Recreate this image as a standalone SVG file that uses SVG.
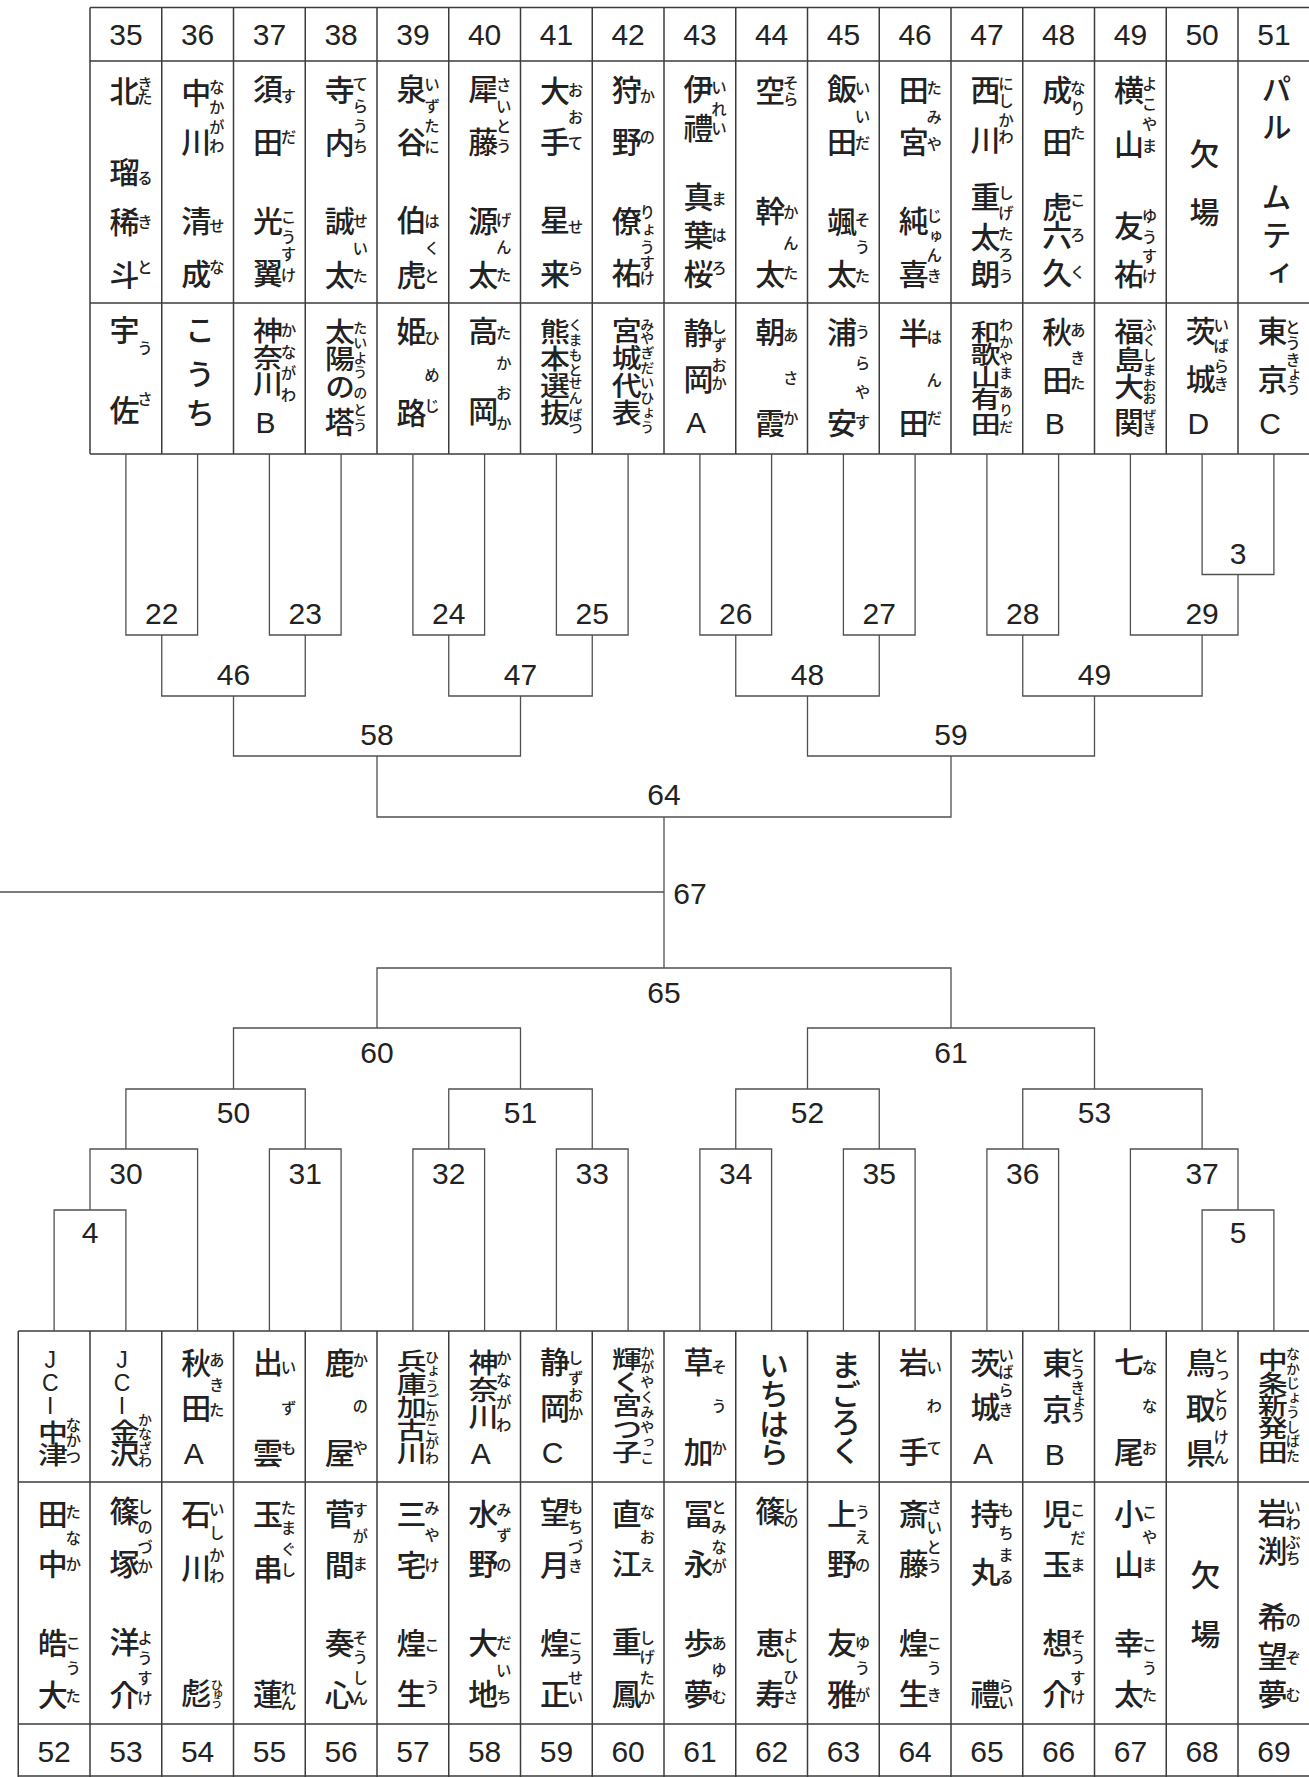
<svg xmlns="http://www.w3.org/2000/svg" width="1309" height="1777" viewBox="0 0 1309 1777">
<style>
.g{stroke:#3c3c3c;stroke-width:1.5;fill:none}
.c{stroke:#505050;stroke-width:1.3;fill:none}
.n{font-family:"Liberation Sans",Arial,sans-serif;font-size:30px;text-anchor:middle;fill:#222}
.m{font-family:"Liberation Sans","Noto Sans CJK JP",sans-serif;font-size:30px;font-weight:500;writing-mode:vertical-rl;text-orientation:upright;text-anchor:middle;fill:#222}
.j{font-size:23px}
.r{font-family:"Noto Sans CJK JP",sans-serif;font-size:15.5px;font-weight:500;writing-mode:vertical-rl;text-orientation:upright;text-anchor:middle;fill:#222}
.rd{font-size:14px}
.rs{font-size:12px}
</style>
<rect width="1309" height="1777" fill="#fff"/>
<g id="top-table" class="g">
<path d="M90 7.5H1309M90 61H1309M90 303H1309M90 454H1309"/>
<path d="M90 7.5V454M161.75 7.5V454M233.5 7.5V454M305.25 7.5V454M377 7.5V454M448.75 7.5V454M520.5 7.5V454M592.25 7.5V454M664 7.5V454M735.75 7.5V454M807.5 7.5V454M879.25 7.5V454M951 7.5V454M1022.75 7.5V454M1094.5 7.5V454M1166.25 7.5V454M1238 7.5V454"/>
</g>
<g id="bottom-table" class="g">
<path d="M18.25 1331H1309M18.25 1482H1309M18.25 1724H1309M18.25 1776H1309"/>
<path d="M18.25 1331V1777M90 1331V1777M161.75 1331V1777M233.5 1331V1777M305.25 1331V1777M377 1331V1777M448.75 1331V1777M520.5 1331V1777M592.25 1331V1777M664 1331V1777M735.75 1331V1777M807.5 1331V1777M879.25 1331V1777M951 1331V1777M1022.75 1331V1777M1094.5 1331V1777M1166.25 1331V1777M1238 1331V1777"/>
</g>
<g id="connectors" class="c">
<path d="M125.9 454V635H197.6V454M269.4 454V635H341.1V454M412.9 454V635H484.6V454M556.4 454V635H628.1V454M699.9 454V635H771.6V454M843.4 454V635H915.1V454M986.9 454V635H1058.6V454M1202.1 454V574.5H1273.9V454M1130.4 454V635H1238V574.5"/>
<path d="M161.75 635V696H305.25V635M448.75 635V696H592.25V635M735.75 635V696H879.25V635M1022.75 635V696H1202.1V635"/>
<path d="M233.5 696V756H520.5V696M807.5 696V756H1094.5V696M377 756V817H951V756M664 817V968M0 892H664"/>
<path d="M54.1 1331V1210H125.9V1331M90 1210V1149H197.6V1331M269.4 1331V1149H341.1V1331M412.9 1331V1149H484.6V1331M556.4 1331V1149H628.1V1331M699.9 1331V1149H771.6V1331M843.4 1331V1149H915.1V1331M986.9 1331V1149H1058.6V1331M1202.1 1331V1210H1273.9V1331M1130.4 1331V1149H1238V1210"/>
<path d="M125.9 1149V1089H305.25V1149M448.75 1149V1089H592.25V1149M735.75 1149V1089H879.25V1149M1022.75 1149V1089H1202.1V1149"/>
<path d="M233.5 1089V1028H520.5V1089M807.5 1089V1028H1094.5V1089M377 1028V968H951V1028"/>
</g>
<g id="matches" class="n">
<text id="m22" x="161.75" y="624">22</text><text id="m23" x="305.25" y="624">23</text><text id="m24" x="448.75" y="624">24</text><text id="m25" x="592.25" y="624">25</text><text id="m26" x="735.75" y="624">26</text><text id="m27" x="879.25" y="624">27</text><text id="m28" x="1022.75" y="624">28</text><text id="m29" x="1202.1" y="624">29</text>
<text id="m3" x="1238" y="564">3</text>
<text id="m46" x="233.5" y="685">46</text><text id="m47" x="520.5" y="685">47</text><text id="m48" x="807.5" y="685">48</text><text id="m49" x="1094.5" y="685">49</text>
<text id="m58" x="377" y="745">58</text><text id="m59" x="951" y="745">59</text>
<text id="m64" x="664" y="805">64</text>
<text id="m67" x="690" y="904">67</text>
<text id="m65" x="664" y="1003">65</text>
<text id="m60" x="377" y="1063">60</text><text id="m61" x="951" y="1063">61</text>
<text id="m50" x="233.5" y="1123">50</text><text id="m51" x="520.5" y="1123">51</text><text id="m52" x="807.5" y="1123">52</text><text id="m53" x="1094.5" y="1123">53</text>
<text id="m30" x="125.9" y="1184">30</text><text id="m31" x="305.25" y="1184">31</text><text id="m32" x="448.75" y="1184">32</text><text id="m33" x="592.25" y="1184">33</text><text id="m34" x="735.75" y="1184">34</text><text id="m35" x="879.25" y="1184">35</text><text id="m36" x="1022.75" y="1184">36</text><text id="m37" x="1202.1" y="1184">37</text>
<text id="m4" x="90" y="1243">4</text><text id="m5" x="1238" y="1243">5</text>
</g>

<g id="t35"><text class="n" x="125.9" y="45">35</text>
<text class="m" x="122" y="91 172 222 275">北瑠稀斗</text><text class="r" x="145" y="84 98 178 222 267">きたるきと</text>
<text class="m" x="122" y="330 410">宇佐</text><text class="r" x="145" y="348 399">うさ</text></g>
<g id="t36"><text class="n" x="197.6" y="45">36</text>
<text class="m" x="193.75" y="93 142 221 274">中川清成</text><text class="r" x="216.75" y="87 107 127 146 226 267">なかがわせな</text>
<text class="m" x="197.6" y="330 374 413">こうち</text></g>
<g id="t37"><text class="n" x="269.4" y="45">37</text>
<text class="m" x="265.5" y="89 142 221 273">須田光翼</text><text class="r" x="288.5" y="96 137 217 237 254 275">すだこうすけ</text>
<text class="m" transform="matrix(1 0 0 0.9 0 35.8)" x="265.5" y="328 358 386.89">神奈川</text><text class="m" x="265.5" y="422">B</text><text class="r" x="288.5" y="330 352 373 395">かながわ</text></g>
<g id="t38"><text class="n" x="341.1" y="45">38</text>
<text class="m" x="337.25" y="90 143 221 275">寺内誠太</text><text class="r" x="360.25" y="84 106 126 146 221 248 276">てらうちせいた</text>
<text class="m" transform="matrix(1 0 0 0.9 0 35.9)" x="337.25" y="329 359 390.11">太陽の</text><text class="m" x="337.25" y="422">塔</text><text class="r rd" x="360.25" y="328 343 358 372 393 410 425">たいようのとう</text></g>
<g id="t39"><text class="n" x="412.9" y="45">39</text>
<text class="m" x="409" y="89 142 220 275">泉谷伯虎</text><text class="r" x="432" y="84 106 126 147 221 248 276">いずたにはくと</text>
<text class="m" x="409" y="331 413">姫路</text><text class="r" x="432" y="338 375 406">ひめじ</text></g>
<g id="t40"><text class="n" x="484.6" y="45">40</text>
<text class="m" x="480.75" y="89 142 221 275">犀藤源太</text><text class="r" x="503.75" y="85 106 126 146 220 247 275">さいとうげんた</text>
<text class="m" x="480.75" y="331 411">高岡</text><text class="r" x="503.75" y="333 363 393 423">たかおか</text></g>
<g id="t41"><text class="n" x="556.4" y="45">41</text>
<text class="m" x="552.5" y="91 142 220 274">大手星来</text><text class="r" x="575.5" y="90 117 143 227 268">おおてせら</text>
<text class="m" transform="matrix(1 0 0 0.9 0 37.25)" x="552.5" y="327.5 357.5 387.5 417.5">熊本選抜</text><text class="r rd" x="575.5" y="325 340 355 370 383 398 415 428">くまもとせんばつ</text></g>
<g id="t42"><text class="n" x="628.1" y="45">42</text>
<text class="m" x="624.25" y="90 142 221 273">狩野僚祐</text><text class="r" x="647.25" y="96 137 212 230 247 263 278">かのりょうすけ</text>
<text class="m" transform="matrix(1 0 0 0.9 0 37.2)" x="624.25" y="326.44 356.44 387.56 417.56">宮城代表</text><text class="r rd" x="647.25" y="325 338 353 368 383 398 413 427">みやぎだいひょう</text></g>
<g id="t43"><text class="n" x="699.9" y="45">43</text>
<text class="m" x="696" y="89 128 197 235 274">伊禮真葉桜</text><text class="r" x="719" y="87 109 128 199 235 268">いれいまはろ</text>
<text class="m" x="696" y="333 379 422">静岡A</text><text class="r" x="719" y="327 345 365 383">しずおか</text></g>
<g id="t44"><text class="n" x="771.6" y="45">44</text>
<text class="m" x="767.75" y="91 211 274">空幹太</text><text class="r" x="790.75" y="83 99 212 243 273">そらかんた</text>
<text class="m" x="767.75" y="332 423">朝霞</text><text class="r" x="790.75" y="335 378 418">あさか</text></g>
<g id="t45"><text class="n" x="843.4" y="45">45</text>
<text class="m" x="839.5" y="89 142 222 274">飯田颯太</text><text class="r" x="862.5" y="88 116 143 220 247 276">いいだそうた</text>
<text class="m" x="839.5" y="332 423">浦安</text><text class="r" x="862.5" y="332 363 392 422">うらやす</text></g>
<g id="t46"><text class="n" x="915.1" y="45">46</text>
<text class="m" x="911.25" y="90 142 221 274">田宮純喜</text><text class="r" x="934.25" y="88 117 144 216 236 255 276">たみやじゅんき</text>
<text class="m" x="911.25" y="333 423">半田</text><text class="r" x="934.25" y="337 380 418">はんだ</text></g>
<g id="t47"><text class="n" x="986.9" y="45">47</text>
<text class="m" x="983" y="90 140 197 237 274">西川重太朗</text><text class="r" x="1006" y="84 101 120 137 193 213 234 255 276">にしかわしげたろう</text>
<text class="m" transform="matrix(1 0 0 0.8 0 75.6)" x="983" y="320.5 348 376.75 404.25 435.5">和歌山有田</text><text class="r rd" x="1006" y="325 342 358 373 392 410 427">わかやまありだ</text></g>
<g id="t48"><text class="n" x="1058.6" y="45">48</text>
<text class="m" x="1054.75" y="90 142 207 235 273">成田虎六久</text><text class="r" x="1077.75" y="88 108 133 200 235 272">なりたころく</text>
<text class="m" x="1054.75" y="332 380 423">秋田B</text><text class="r" x="1077.75" y="330 358 383">あきた</text></g>
<g id="t49"><text class="n" x="1130.4" y="45">49</text>
<text class="m" x="1126.5" y="90 144 226 274">横山友祐</text><text class="r" x="1149.5" y="84 104 124 146 216 237 256 276">よこやまゆうすけ</text>
<text class="m" transform="matrix(1 0 0 0.9 0 36)" x="1126.5" y="328.89 360 390">福島大</text><text class="m" x="1126.5" y="422">関</text><text class="r rd" x="1149.5" y="325 340 355 370 385 398 415 428">ふくしまおおぜき</text></g>
<g id="t50"><text class="n" x="1202.1" y="45">50</text>
<text class="m" x="1202.1" y="154 212">欠場</text>
<text class="m" x="1198.25" y="331 379 423">茨城D</text><text class="r" x="1221.25" y="325 346 366 384">いばらき</text></g>
<g id="t51"><text class="n" x="1273.9" y="45">51</text>
<text class="m" x="1274" y="89 127 197 235 273">パルムティ</text>
<text class="m" x="1270" y="331 379 423">東京C</text><text class="r" x="1293" y="327 343 360 375 388">とうきょう</text></g>

<g id="b52"><text class="m j" x="50.25" y="1360 1383 1406">JCI</text><text class="m" transform="matrix(1 0 0 0.85 0 216.45)" x="50.25" y="1430.06 1455.94">中津</text><text class="r" x="73.25" y="1425 1440 1457">なかつ</text>
<text class="m" x="50.25" y="1514 1564 1643 1695">田中皓大</text><text class="r" x="73.25" y="1512 1538 1564 1643 1668 1696">たなかこうた</text>
<text class="n" x="54.1" y="1762">52</text></g>
<g id="b53"><text class="m j" x="122" y="1360 1383 1406">JCI</text><text class="m" transform="matrix(1 0 0 0.85 0 216.375)" x="122" y="1428.97 1456.03">金沢</text><text class="r rd" x="145" y="1420 1434 1448 1461">かなざわ</text>
<text class="m" x="122" y="1511 1564 1642 1695">篠塚洋介</text><text class="r" x="145" y="1507 1527 1547 1566 1638 1658 1678 1698">しのづかようすけ</text>
<text class="n" x="125.9" y="1762">53</text></g>
<g id="b54"><text class="m" x="193.75" y="1363 1408 1453">秋田A</text><text class="r" x="216.75" y="1360 1385 1410">あきた</text>
<text class="m" x="193.75" y="1514 1568 1693">石川彪</text><text class="r" x="216.75" y="1509 1533 1555 1576">いしかわ</text><text class="r rs" x="216.75" y="1685 1694 1703">ひゅう</text>
<text class="n" x="197.6" y="1762">54</text></g>
<g id="b55"><text class="m" x="265.5" y="1362 1453">出雲</text><text class="r" x="288.5" y="1367 1408 1448">いずも</text>
<text class="m" x="265.5" y="1514 1569 1694">玉串蓮</text><text class="r" x="288.5" y="1508 1528 1549 1570 1688 1703">たまぐしれん</text>
<text class="n" x="269.4" y="1762">55</text></g>
<g id="b56"><text class="m" x="337.25" y="1363 1453">鹿屋</text><text class="r" x="360.25" y="1360 1406 1448">かのや</text>
<text class="m" x="337.25" y="1514 1565 1643 1695">菅間奏心</text><text class="r" x="360.25" y="1510 1536 1564 1638 1657 1678 1698">すがまそうしん</text>
<text class="n" x="341.1" y="1762">56</text></g>
<g id="b57"><text class="m" transform="matrix(1 0 0 0.8 0 281.4)" x="409" y="1349.5 1378.25 1407 1435.75 1464.5">兵庫加古川</text><text class="r rd" x="432" y="1357 1371 1386 1400 1415 1429 1443 1458">ひょうごかこがわ</text>
<text class="m" x="409" y="1514 1565 1643 1694">三宅煌生</text><text class="r" x="432" y="1508 1535 1565 1645 1687">みやけこう</text>
<text class="n" x="412.9" y="1762">57</text></g>
<g id="b58"><text class="m" transform="matrix(1 0 0 0.9 0 139)" x="480.75" y="1360 1390 1420">神奈川</text><text class="m" x="480.75" y="1453">A</text><text class="r" x="503.75" y="1358 1380 1402 1425">かながわ</text>
<text class="m" x="480.75" y="1514 1564 1643 1694">水野大地</text><text class="r" x="503.75" y="1510 1535 1565 1643 1670 1697">みずのだいち</text>
<text class="n" x="484.6" y="1762">58</text></g>
<g id="b59"><text class="m" x="552.5" y="1362 1408 1452">静岡C</text><text class="r" x="575.5" y="1358 1378 1395 1413">しずおか</text>
<text class="m" x="552.5" y="1512 1565 1643 1694">望月煌正</text><text class="r" x="575.5" y="1507 1527 1547 1566 1638 1657 1678 1697">もちづきこうせい</text>
<text class="n" x="556.4" y="1762">59</text></g>
<g id="b60"><text class="m" transform="matrix(1 0 0 0.8 0 281)" x="624.25" y="1347.5 1376.25 1405 1435 1463.75">輝く宮つ子</text><text class="r rd" x="647.25" y="1353 1367 1382 1397 1412 1427 1442 1458">かがやくみやっこ</text>
<text class="m" x="624.25" y="1514 1564 1642 1694">直江重鳳</text><text class="r" x="647.25" y="1512 1537 1565 1638 1657 1678 1697">なおえしげたか</text>
<text class="n" x="628.1" y="1762">60</text></g>
<g id="b61"><text class="m" x="696" y="1362 1452">草加</text><text class="r" x="719" y="1367 1406 1448">そうか</text>
<text class="m" x="696" y="1514 1564 1643 1694">冨永歩夢</text><text class="r" x="719" y="1507 1527 1547 1566 1643 1670 1697">とみながあゆむ</text>
<text class="n" x="699.9" y="1762">61</text></g>
<g id="b62"><text class="m" x="771.6" y="1365 1394 1424 1452">いちはら</text>
<text class="m" x="767.75" y="1511 1643 1694">篠恵寿</text><text class="r" x="790.75" y="1506 1521 1636 1656 1677 1697">しのよしひさ</text>
<text class="n" x="771.6" y="1762">62</text></g>
<g id="b63"><text class="m" x="843.4" y="1365 1394 1422 1451">まごろく</text>
<text class="m" x="839.5" y="1514 1564 1643 1694">上野友雅</text><text class="r" x="862.5" y="1512 1537 1565 1643 1668 1695">うえのゆうが</text>
<text class="n" x="843.4" y="1762">63</text></g>
<g id="b64"><text class="m" x="911.25" y="1362 1452">岩手</text><text class="r" x="934.25" y="1367 1406 1448">いわて</text>
<text class="m" x="911.25" y="1514 1564 1643 1694">斎藤煌生</text><text class="r" x="934.25" y="1507 1527 1547 1566 1643 1668 1695">さいとうこうき</text>
<text class="n" x="915.1" y="1762">64</text></g>
<g id="b65"><text class="m" x="983" y="1363 1407 1453">茨城A</text><text class="r" x="1006" y="1355 1372 1390 1410">いばらき</text>
<text class="m" x="983" y="1514 1572 1694">持丸禮</text><text class="r" x="1006" y="1510 1533 1555 1577 1686 1702">もちまるらい</text>
<text class="n" x="986.9" y="1762">65</text></g>
<g id="b66"><text class="m" x="1054.75" y="1363 1409 1454">東京B</text><text class="r" x="1077.75" y="1355 1372 1388 1402 1415">とうきょう</text>
<text class="m" x="1054.75" y="1514 1564 1643 1694">児玉想介</text><text class="r" x="1077.75" y="1510 1538 1565 1637 1657 1678 1697">こだまそうすけ</text>
<text class="n" x="1058.6" y="1762">66</text></g>
<g id="b67"><text class="m" x="1126.5" y="1362 1452">七尾</text><text class="r" x="1149.5" y="1367 1406 1448">ななお</text>
<text class="m" x="1126.5" y="1514 1564 1643 1694">小山幸太</text><text class="r" x="1149.5" y="1512 1537 1565 1645 1668 1695">こやまこうた</text>
<text class="n" x="1130.4" y="1762">67</text></g>
<g id="b68"><text class="m" x="1198.25" y="1363 1408 1453">鳥取県</text><text class="r" x="1221.25" y="1355 1375 1395 1413 1437 1457">とっとりけん</text>
<text class="m" x="1203" y="1575 1634">欠場</text>
<text class="n" x="1202.1" y="1762">68</text></g>
<g id="b69"><text class="m" transform="matrix(1 0 0 0.8 0 281)" x="1270" y="1348.75 1377.5 1405 1433.75 1463.75">中条新発田</text><text class="r rd" x="1293" y="1354 1369 1383 1398 1412 1427 1441 1456">なかじょうしばた</text>
<text class="m" x="1270" y="1513 1551 1617 1656 1694">岩渕希望夢</text><text class="r" x="1293" y="1507 1523 1542 1558 1620 1658 1695">いわぶちのぞむ</text>
<text class="n" x="1273.9" y="1762">69</text></g>
</svg>
